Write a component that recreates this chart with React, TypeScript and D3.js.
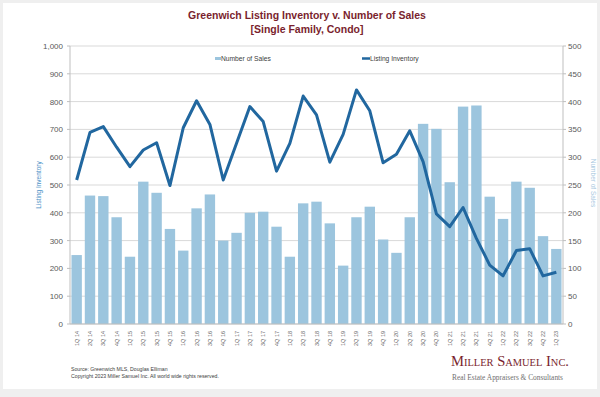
import React from "react";
import * as d3 from "d3";

const categories = [
  "1Q 14","2Q 14","3Q 14","4Q 14","1Q 15","2Q 15","3Q 15","4Q 15",
  "1Q 16","2Q 16","3Q 16","4Q 16","1Q 17","2Q 17","3Q 17","4Q 17",
  "1Q 18","2Q 18","3Q 18","4Q 18","1Q 19","2Q 19","3Q 19","4Q 19",
  "1Q 20","2Q 20","3Q 20","4Q 20","1Q 21","2Q 21","3Q 21","4Q 21",
  "1Q 22","2Q 22","3Q 22","4Q 22","1Q 23",
];
const numberOfSales = [
  124, 231, 230, 192, 121, 256, 236, 171,
  132, 208, 233, 150, 164, 200, 202, 175,
  121, 217, 220, 181, 105, 192, 211, 152,
  128, 192, 360, 351, 255, 391, 393, 229,
  189, 256, 245, 158, 135,
];
const listingInventory = [
  518, 689, 710, 636, 566, 626, 652, 498,
  706, 803, 718, 518, 650, 782, 728, 550,
  650, 820, 752, 582, 682, 842, 767, 580,
  611, 695, 584, 396, 350, 419, 308, 212,
  173, 264, 271, 173, 186,
];
const leftTicks = [0, 100, 200, 300, 400, 500, 600, 700, 800, 900, 1000];
const rightTicks = [0, 50, 100, 150, 200, 250, 300, 350, 400, 450, 500];

const W = 600;
const H = 397;
const plot = { left: 70, right: 563, top: 46, bottom: 324 };
const BAR = "#9cc5de";
const LINE = "#21679f";
const TITLE = "#7a1f2e";
const SANS = "'Liberation Sans', Arial, sans-serif";
const SERIF = "'Liberation Serif', 'Times New Roman', serif";

export default function App() {
  const x = d3.scaleBand<string>().domain(categories).range([plot.left, plot.right]).paddingInner(0.22).paddingOuter(0.11);
  const yL = d3.scaleLinear().domain([0, 1000]).range([plot.bottom, plot.top]);
  const yR = d3.scaleLinear().domain([0, 500]).range([plot.bottom, plot.top]);
  const line = d3
    .line<number>()
    .x((_, i) => (x(categories[i]) as number) + x.bandwidth() / 2)
    .y((d) => yL(d));
  const fmt = d3.format(",");

  return (
    <svg width={W} height={H} style={{ position: "absolute", left: 0, top: 0 }} fontFamily={SANS}>
      <rect x={0} y={0} width={W} height={H} fill="#efefef" />
      <rect x={3} y={3} width={594} height={386} fill="#ffffff" />
      <text x={307} y={19} textAnchor="middle" fontSize={10.5} fontWeight="bold" fill={TITLE}>
        Greenwich Listing Inventory v. Number of Sales
      </text>
      <text x={307} y={33} textAnchor="middle" fontSize={10.5} fontWeight="bold" fill={TITLE}>
        [Single Family, Condo]
      </text>

      {leftTicks.map((t) => (
        <g key={"g" + t}>
          <line x1={plot.left} x2={plot.right} y1={yL(t)} y2={yL(t)} stroke="#d9d9d9" strokeWidth={1} />
          <line x1={plot.left - 3} x2={plot.left} y1={yL(t)} y2={yL(t)} stroke="#bfbfbf" />
          <text x={63} y={yL(t) + 3} textAnchor="end" fontSize={8} fill="#595959">
            {fmt(t)}
          </text>
        </g>
      ))}
      {rightTicks.map((t) => (
        <g key={"r" + t}>
          <line x1={plot.right} x2={plot.right + 3} y1={yR(t)} y2={yR(t)} stroke="#bfbfbf" />
          <text x={568} y={yR(t) + 3} textAnchor="start" fontSize={8} fill="#595959">
            {t}
          </text>
        </g>
      ))}
      <line x1={plot.left} x2={plot.left} y1={plot.top} y2={plot.bottom} stroke="#bfbfbf" />
      <line x1={plot.right} x2={plot.right} y1={plot.top} y2={plot.bottom} stroke="#bfbfbf" />

      {numberOfSales.map((v, i) => (
        <rect
          key={"b" + i}
          x={x(categories[i])}
          y={yR(v)}
          width={x.bandwidth()}
          height={yR(0) - yR(v)}
          fill={BAR}
        />
      ))}
      <line x1={plot.left} x2={plot.right} y1={plot.bottom} y2={plot.bottom} stroke="#bfbfbf" />

      <path d={line(listingInventory) || ""} fill="none" stroke={LINE} strokeWidth={3} strokeLinejoin="round" />

      {categories.map((c) => {
        const cx = (x(c) as number) + x.bandwidth() / 2;
        return (
          <text
            key={"x" + c}
            transform={`translate(${cx + 2},${331}) rotate(-90)`}
            textAnchor="end"
            fontSize={5.5}
            fill="#666"
          >
            {c}
          </text>
        );
      })}

      <text transform="translate(41,185) rotate(-90)" textAnchor="middle" fontSize={6.5} fill="#4a8fc6">
        Listing Inventory
      </text>
      <text transform="translate(591,183) rotate(90)" textAnchor="middle" fontSize={6.5} fill="#a9c9df">
        Number of Sales
      </text>

      <rect x={215} y={57} width={6} height={3} fill={BAR} />
      <text x={221} y={60.5} fontSize={6.7} fill="#404040">Number of Sales</text>
      <line x1={362} x2={370} y1={58.5} y2={58.5} stroke={LINE} strokeWidth={2.5} />
      <text x={370} y={60.5} fontSize={6.7} fill="#404040">Listing Inventory</text>

      <text x={71} y={371} fontSize={5.2} fill="#404040">Source: Greenwich MLS, Douglas Elliman</text>
      <text x={71} y={377.5} fontSize={5.2} fill="#404040">
        Copyright 2023 Miller Samuel Inc.  All world wide rights reserved.
      </text>

      <text x={451} y={366} fontSize={14} fontFamily={SERIF} fill={TITLE} style={{ fontVariant: "small-caps" }} textLength={118} lengthAdjust="spacingAndGlyphs">
        Miller Samuel Inc.
      </text>
      <text x={452} y={380} fontSize={7.5} fontFamily={SERIF} fill="#707070" textLength={111} lengthAdjust="spacingAndGlyphs">
        Real Estate Appraisers &amp; Consultants
      </text>
    </svg>
  );
}
